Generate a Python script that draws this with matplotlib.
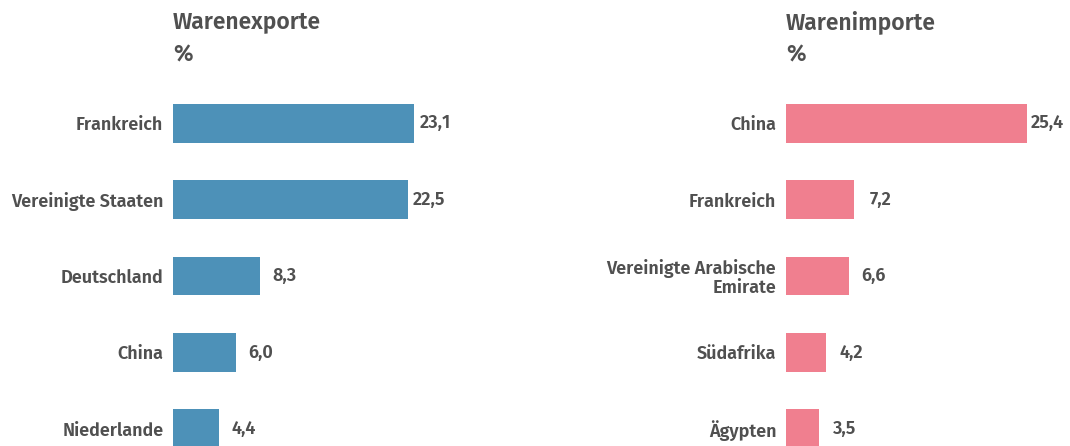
import matplotlib.pyplot as plt
from matplotlib.transforms import offset_copy

# data
export_countries = ["Frankreich", "Vereinigte Staaten", "Deutschland", "China", "Niederlande"]
export_values = [23.1, 22.5, 8.3, 6.0, 4.4]
import_countries = ["China", "Frankreich", "Vereinigte Arabische\nEmirate", "Südafrika", "Ägypten"]
import_values = [25.4, 7.2, 6.6, 4.2, 3.5]

TEXT = "#505050"
plt.rcParams["font.family"] = ["Fira Sans", "Roboto", "DejaVu Sans"]

W, H = 1070, 446
fig = plt.figure(figsize=(W / 100, H / 100), dpi=100)


def px_axes(x0, y_top, width, y_bot):
    return fig.add_axes([x0 / W, 1 - y_bot / H, width / W, (y_bot - y_top) / H])


def panel(x0, title, cats, vals, color):
    ax = px_axes(x0, 85, 288, 467)
    pos = range(len(cats))
    ax.barh(pos, vals, height=0.51, color=color)
    ax.set_ylim(len(cats) - 0.5, -0.5)
    ax.set_xlim(0, max(vals) * 1.195)
    ax.set_yticks(list(pos))
    ax.set_yticklabels(cats, fontsize=13, fontweight="semibold", color=TEXT,
                       linespacing=1.05)
    ax.tick_params(axis="y", length=0, pad=7)
    ax.set_xticks([])
    for s in ax.spines.values():
        s.set_visible(False)
    # value labels right-aligned a fixed distance past the bar end
    tr = offset_copy(ax.transData, fig=fig, x=37 * 0.72, y=0, units="points")
    for p, v in zip(pos, vals):
        ax.text(v, p, f"{v:.1f}".replace(".", ","), transform=tr,
                va="center", ha="right", fontsize=13, fontweight="semibold", color=TEXT)
    fig.text(x0 / W, 1 - 22 / H, title, fontsize=16.5, fontweight="semibold",
             color=TEXT, va="center", ha="left")
    fig.text(x0 / W, 1 - 55 / H, "%", fontsize=16.5, fontweight="semibold",
             color=TEXT, va="center", ha="left")
    return ax


panel(173, "Warenexporte", export_countries, export_values, "#4d91b8")
panel(786, "Warenimporte", import_countries, import_values, "#f07f8f")

fig.savefig("out.png", dpi=100)
